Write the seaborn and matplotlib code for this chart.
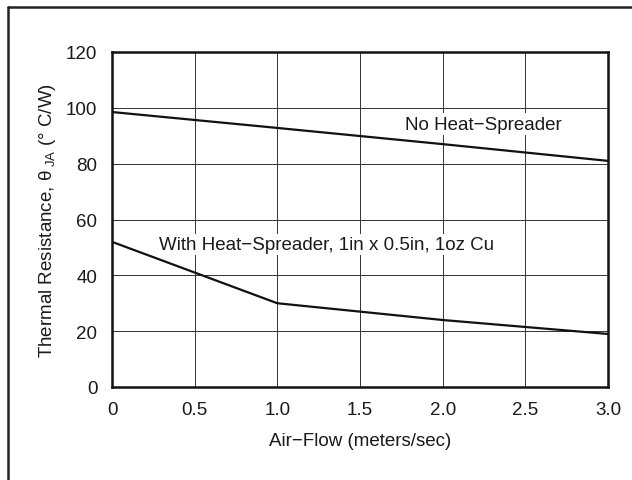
import matplotlib
matplotlib.use("Agg")
import matplotlib.pyplot as plt
import seaborn as sns
import pandas as pd
from matplotlib.lines import Line2D

airflow = [0.0, 1.0, 2.0, 3.0]
no_spreader = [98.5, 92.8, 87.0, 81.0]
with_spreader = [52.0, 30.0, 24.0, 19.0]

x_ticks = [0, 0.5, 1.0, 1.5, 2.0, 2.5, 3.0]
x_tick_labels = ["0", "0.5", "1.0", "1.5", "2.0", "2.5", "3.0"]
y_ticks = [0, 20, 40, 60, 80, 100, 120]

label_no = "No Heat\u2212Spreader"
label_with = "With Heat\u2212Spreader, 1in x 0.5in, 1oz Cu"

sns.set_style("white")
plt.rcParams['font.family'] = ['Liberation Sans', 'DejaVu Sans']
plt.rcParams['mathtext.fontset'] = 'custom'
plt.rcParams['mathtext.rm'] = 'Liberation Sans'
plt.rcParams['mathtext.it'] = 'Liberation Sans'
plt.rcParams['mathtext.default'] = 'regular'

df = pd.DataFrame({
    "x": airflow * 2,
    "y": no_spreader + with_spreader,
    "s": [label_no] * 4 + [label_with] * 4,
})

fs = 13.5
tc = "#1a1a1a"
fig = plt.figure(figsize=(6.32, 4.81), dpi=100)
ax = fig.add_axes([112 / 632, 1 - 388 / 481, (608 - 112) / 632, (388 - 53) / 481])

sns.lineplot(data=df, x="x", y="y", hue="s", palette=["#111111", "#111111"],
             linewidth=1.6, legend=False, ax=ax, zorder=3)

ax.set_xlim(0, 3)
ax.set_ylim(0, 120)
ax.set_xticks(x_ticks)
ax.set_xticklabels(x_tick_labels)
ax.set_yticks(y_ticks)
ax.grid(True, color="#333333", linewidth=0.7)
for sp in ax.spines.values():
    sp.set_visible(True)
    sp.set_color("#111111")
    sp.set_linewidth(1.8)
ax.tick_params(axis="x", labelsize=fs, colors=tc, length=0, pad=10)
ax.tick_params(axis="y", labelsize=fs, colors=tc, length=0, pad=10.5)
ax.set_xlabel("Air\u2212Flow (meters/sec)", fontsize=fs, color=tc, labelpad=10)
ax.set_ylabel(r"Thermal Resistance, $\theta_{\ JA}$ ($\degree$ C/W)", fontsize=fs,
              color=tc, labelpad=6)

box = dict(facecolor="white", edgecolor="none", pad=1.5)
ax.text(2.245, 94.2, label_no, ha="center", va="center", fontsize=fs,
        color=tc, bbox=box, zorder=4)
ax.text(1.30, 51.2, label_with, ha="center", va="center", fontsize=fs,
        color=tc, bbox=box, zorder=4)

fig.add_artist(Line2D([8 / 632, 1.0], [1 - 8 / 481, 1 - 8 / 481],
                      transform=fig.transFigure, color="#222222", linewidth=1.8))
fig.add_artist(Line2D([8 / 632, 8 / 632], [0, 1 - 8 / 481],
                      transform=fig.transFigure, color="#222222", linewidth=1.8))

fig.savefig("out.png", dpi=100)
